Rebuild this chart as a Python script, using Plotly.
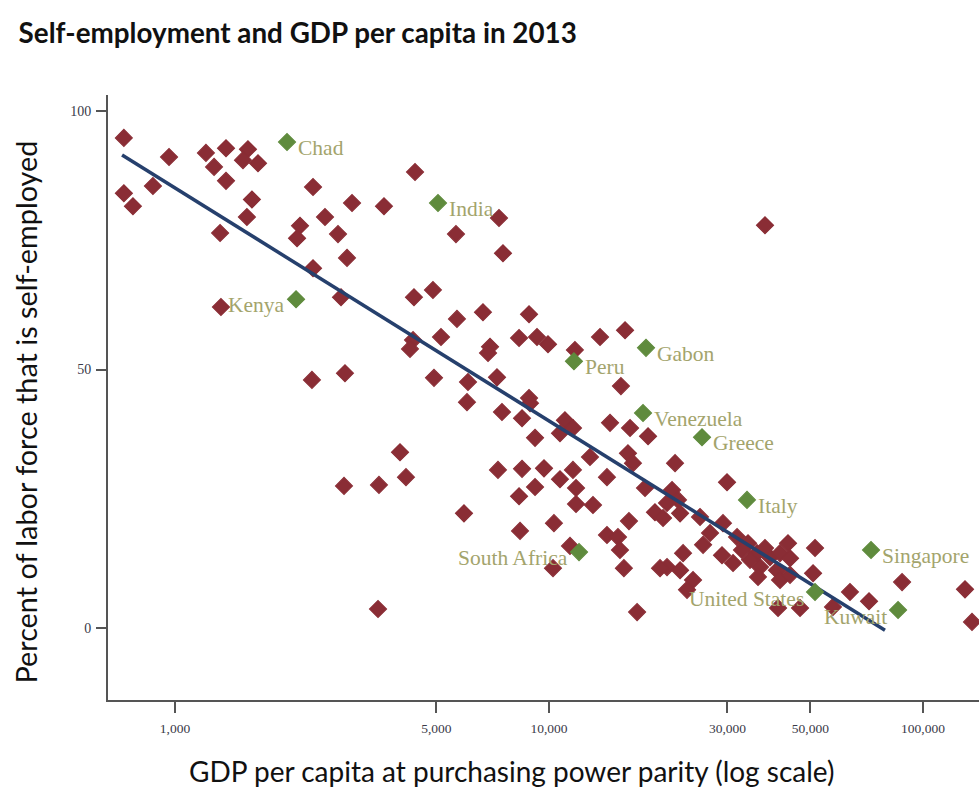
import numpy as np
import plotly.graph_objects as go

# GDP per capita (PPP, US$) and self-employment share (%) for all countries
gdp = [730, 730, 772, 873, 964, 1210, 1272, 1369, 1369, 1567, 1520, 1667, 1606, 1557, 1320,
       2339, 2518, 2159, 2120, 2339, 1327, 4383, 2974, 3621, 2728, 2884, 7350, 5640, 7533,
       2779, 4355, 4895, 5675, 6660, 8843, 5143, 4330, 4250, 6955, 6870, 8316, 9288, 9938,
       11730, 13690, 15970, 2324, 2848, 4926, 6073, 7260, 15570, 8843, 6036, 3996, 4146,
       2831, 3511, 3490, 7486, 8470, 8898, 11030, 10700, 11590, 9176, 14560, 16470, 18400,
       12870, 16260, 16770, 21730, 7305, 8470, 9697, 11590, 10700, 14290, 29920, 9176, 11810,
       8316, 18060, 21330, 22130, 11810, 13110, 19200, 20180, 22410, 25340, 29190, 5925,
       10310, 16360, 8367, 14290, 15290, 26950, 25820, 31830, 34050, 35980, 29010, 31050,
       36660, 38980, 41470, 43550, 44100, 40710, 36210, 41470, 51440, 50820, 22830, 20680,
       22410, 24270, 23390, 15480, 11380, 10250, 15860, 19810, 17200, 40960, 46900, 57460,
       63790, 71720, 87900, 129500, 135200, 37800, 20680, 32810, 37800, 34470, 44100]
self_emp = [94.8, 84.1, 81.6, 85.5, 91.1, 91.9, 89.2, 92.8, 86.5, 92.6, 90.5, 89.9, 82.9, 79.5, 76.4,
            85.3, 79.5, 77.8, 75.4, 69.6, 62.1, 88.2, 82.2, 81.6, 76.2, 71.6, 79.3, 76.2, 72.5,
            64.0, 64.0, 65.4, 59.8, 61.1, 60.7, 56.3, 55.7, 54.0, 54.4, 53.2, 56.1, 56.3, 54.9,
            53.8, 56.3, 57.6, 48.0, 49.3, 48.4, 47.6, 48.5, 46.8, 44.5, 43.7, 34.0, 29.2,
            27.5, 27.7, 3.7, 41.8, 40.6, 43.5, 40.2, 37.7, 38.7, 36.8, 39.7, 38.7, 37.1,
            33.1, 33.8, 31.9, 31.9, 30.6, 30.8, 30.9, 30.6, 28.8, 29.2, 28.2, 27.3, 27.1,
            25.5, 27.1, 26.7, 24.8, 24.0, 23.8, 22.4, 21.3, 22.2, 21.5, 20.3, 22.2,
            20.3, 20.7, 18.8, 18.0, 17.6, 18.4, 16.1, 17.6, 16.4, 14.5, 14.1, 12.6,
            11.8, 13.7, 14.5, 16.4, 13.5, 11.2, 9.9, 9.3, 15.5, 10.6, 14.5, 11.8,
            11.2, 9.3, 7.4, 15.1, 15.9, 11.6, 11.6, 11.6, 3.1, 3.9, 3.9, 4.1,
            7.0, 5.2, 8.9, 7.5, 1.2, 77.9, 24.2, 15.1, 15.5, 13.2, 10.3]

# Highlighted countries
hl_names = ["Chad", "Kenya", "India", "Peru", "Gabon", "Venezuela", "Greece", "Italy",
            "South Africa", "United States", "Singapore", "Kuwait"]
hl_gdp = [1993, 2107, 5049, 11660, 18170, 17840, 25650, 33840, 12030, 51440, 72610, 85760]
hl_self_emp = [94.0, 63.6, 82.2, 51.6, 54.2, 41.6, 36.9, 24.8, 14.7, 7.0, 15.1, 3.5]
hl_side = ["right", "left", "right", "right", "right", "right", "right", "right",
           "left", "left", "right", "left"]

# Fitted trend line endpoints
fit_gdp = [722, 79120]
fit_self_emp = [91.5, -0.4]

x_ticks = [1000, 5000, 10000, 30000, 50000, 100000]
x_tick_labels = ["1,000", "5,000", "10,000", "30,000", "50,000", "100,000"]
y_ticks = [0, 50, 100]

RED = "#8a2d35"
GREEN = "#5f8b3d"
NAVY = "#26406d"
LABEL = "#a3a46c"
SERIF = "Liberation Serif, DejaVu Serif, serif"
SANS = "Lato, Open Sans, sans-serif"

fig = go.Figure()
fig.add_trace(go.Scatter(
    x=gdp, y=self_emp, mode="markers",
    marker=dict(symbol="diamond", size=13, color=RED, line=dict(color=RED, width=1.2)),
    hoverinfo="x+y", showlegend=False))
fig.add_trace(go.Scatter(
    x=fit_gdp, y=fit_self_emp, mode="lines",
    line=dict(color=NAVY, width=3.5), showlegend=False, hoverinfo="skip"))
fig.add_trace(go.Scatter(
    x=hl_gdp, y=hl_self_emp, mode="markers", text=hl_names,
    marker=dict(symbol="diamond", size=13, color=GREEN, line=dict(color=GREEN, width=1.2)),
    hoverinfo="text+x+y", showlegend=False))

for name, gx, gy, side in zip(hl_names, hl_gdp, hl_self_emp, hl_side):
    low = name in ("United States", "Kuwait")
    fig.add_annotation(
        x=np.log10(gx), y=gy, xref="x", yref="y", text=name, showarrow=False,
        xanchor="left" if side == "right" else "right",
        xshift=9 if side == "right" else -9,
        yshift=-7 if low else -6,
        font=dict(family=SERIF, size=21.5, color=LABEL))

# Axis titles
fig.add_annotation(
    x=0.0, y=0.5, xref="paper", yref="paper", xanchor="center", yanchor="middle",
    xshift=-83, yshift=-15, textangle=-90, showarrow=False,
    text="Percent of labor force that is self-employed",
    font=dict(family=SANS, size=28.8, color="#111"))
fig.add_annotation(
    x=0.463, y=0.0, xref="paper", yref="paper", xanchor="center", yanchor="middle",
    yshift=-71, showarrow=False,
    text="GDP per capita at purchasing power parity (log scale)",
    font=dict(family=SANS, size=28, color="#111"))

fig.update_layout(
    width=979, height=790,
    margin=dict(l=108, r=0, t=95, b=90),
    paper_bgcolor="white", plot_bgcolor="white",
    title=dict(text="<b>Self-employment and GDP per capita in 2013</b>",
               x=0.019, xanchor="left", y=0.958, yanchor="middle",
               font=dict(family=SANS, size=27.8, color="#111")),
    xaxis=dict(
        type="log", range=[2.8209, 5.1497],
        tickvals=x_ticks, ticktext=x_tick_labels,
        ticks="outside", ticklen=11, tickwidth=1.5, tickcolor="#555",
        ticklabelstandoff=4,
        showline=True, linecolor="#555", linewidth=2,
        showgrid=False, zeroline=False,
        tickfont=dict(family=SERIF, size=13.5, color="#3a3a48")),
    yaxis=dict(
        range=[-13.9, 103.1], tickvals=y_ticks,
        ticks="outside", ticklen=10, tickwidth=1.5, tickcolor="#555",
        ticklabelstandoff=2,
        showline=True, linecolor="#555", linewidth=2,
        showgrid=False, zeroline=False,
        tickfont=dict(family=SERIF, size=14, color="#3a3a48")),
)

fig.write_html("out.html")
